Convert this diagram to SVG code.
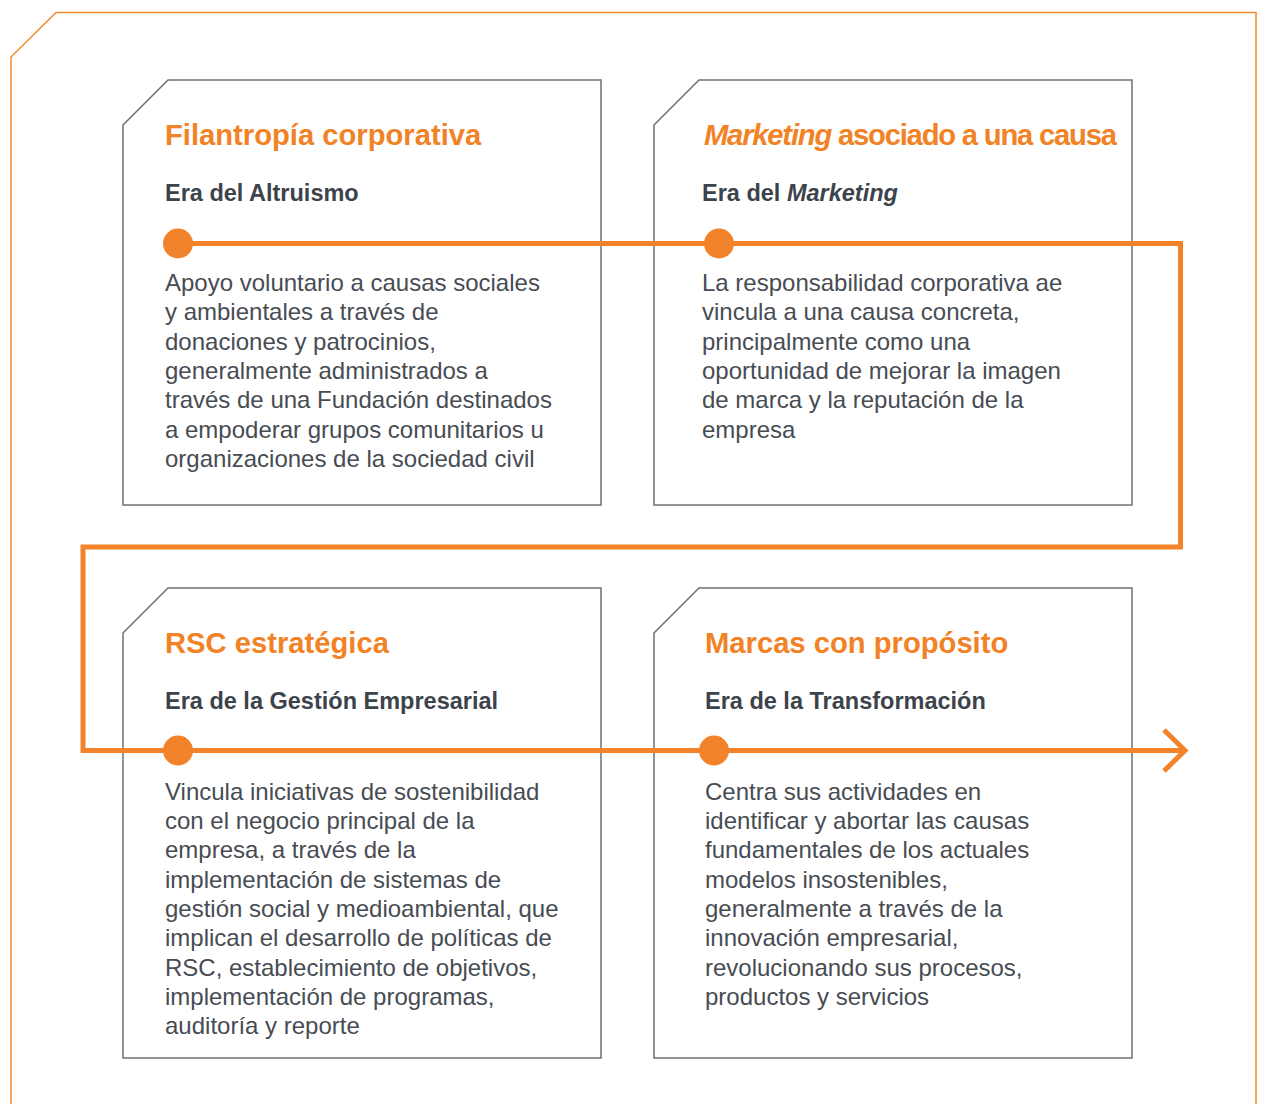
<svg xmlns="http://www.w3.org/2000/svg" width="1262" height="1104" viewBox="0 0 1262 1104">
<style>
.frame{fill:none;stroke:#F28A2E;stroke-width:1.5}
.card{fill:#fff;stroke:#6c7177;stroke-width:1.5}
.title{font-family:"Liberation Sans",Arial,sans-serif;font-weight:bold;font-size:29.2px;fill:#F28226}
.sub{font-family:"Liberation Sans",Arial,sans-serif;font-weight:bold;font-size:23.5px;fill:#3d434a}
.body{font-family:"Liberation Sans",Arial,sans-serif;font-size:24px;fill:#474c53}
.tl{fill:none;stroke:#F2832A;stroke-width:5}
.dot{fill:#F2832A}
</style>
<rect width="1262" height="1104" fill="#fff"/>
<path class="frame" d="M11,1104 V57 L56,12.5 H1256 V1104"/>
<g id="card1">
<path class="card" d="M123,125 L168,80 H601 V505 H123 Z"/>
<text class="title" x="165" y="145">Filantropía corporativa</text>
<text class="sub" x="165" y="201">Era del Altruismo</text>
<text class="body" x="165" y="291">Apoyo voluntario a causas sociales</text>
<text class="body" x="165" y="320">y ambientales a través de</text>
<text class="body" x="165" y="350">donaciones y patrocinios,</text>
<text class="body" x="165" y="379">generalmente administrados a</text>
<text class="body" x="165" y="408">través de una Fundación destinados</text>
<text class="body" x="165" y="438">a empoderar grupos comunitarios u</text>
<text class="body" x="165" y="467">organizaciones de la sociedad civil</text>
</g>
<g id="card2">
<path class="card" d="M654,125 L699,80 H1132 V505 H654 Z"/>
<text class="title" x="704" y="145" letter-spacing="-1.2"><tspan font-style="italic">Marketing</tspan> asociado a una causa</text>
<text class="sub" x="702" y="201">Era del <tspan font-style="italic">Marketing</tspan></text>
<text class="body" x="702" y="291">La responsabilidad corporativa ae</text>
<text class="body" x="702" y="320">vincula a una causa concreta,</text>
<text class="body" x="702" y="350">principalmente como una</text>
<text class="body" x="702" y="379">oportunidad de mejorar la imagen</text>
<text class="body" x="702" y="408">de marca y la reputación de la</text>
<text class="body" x="702" y="438">empresa</text>
</g>
<g id="card3">
<path class="card" d="M123,633 L168,588 H601 V1058 H123 Z"/>
<text class="title" x="165" y="653">RSC estratégica</text>
<text class="sub" x="165" y="709">Era de la Gestión Empresarial</text>
<text class="body" x="165" y="800">Vincula iniciativas de sostenibilidad</text>
<text class="body" x="165" y="829">con el negocio principal de la</text>
<text class="body" x="165" y="858">empresa, a través de la</text>
<text class="body" x="165" y="888">implementación de sistemas de</text>
<text class="body" x="165" y="917">gestión social y medioambiental, que</text>
<text class="body" x="165" y="946">implican el desarrollo de políticas de</text>
<text class="body" x="165" y="976">RSC, establecimiento de objetivos,</text>
<text class="body" x="165" y="1005">implementación de programas,</text>
<text class="body" x="165" y="1034">auditoría y reporte</text>
</g>
<g id="card4">
<path class="card" d="M654,633 L699,588 H1132 V1058 H654 Z"/>
<text class="title" x="705" y="653">Marcas con propósito</text>
<text class="sub" x="705" y="709">Era de la Transformación</text>
<text class="body" x="705" y="800">Centra sus actividades en</text>
<text class="body" x="705" y="829">identificar y abortar las causas</text>
<text class="body" x="705" y="858">fundamentales de los actuales</text>
<text class="body" x="705" y="888">modelos insostenibles,</text>
<text class="body" x="705" y="917">generalmente a través de la</text>
<text class="body" x="705" y="946">innovación empresarial,</text>
<text class="body" x="705" y="976">revolucionando sus procesos,</text>
<text class="body" x="705" y="1005">productos y servicios</text>
</g>
<g id="connectors">
<path class="tl" d="M178,243.5 H1180.5 V547 H83 V750.5 H1185"/>
<path class="tl" d="M1164,730 L1185,750.5 L1164,771"/>
<circle class="dot" cx="178" cy="243.5" r="15"/>
<circle class="dot" cx="719" cy="243.5" r="15"/>
<circle class="dot" cx="178" cy="750.5" r="15"/>
<circle class="dot" cx="714" cy="750.5" r="15"/>
</g>
</svg>
